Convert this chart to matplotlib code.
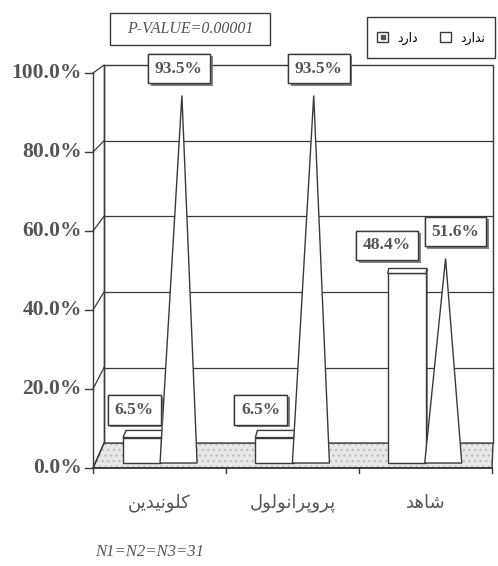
import matplotlib
matplotlib.use("Agg")
import matplotlib.pyplot as plt
from matplotlib.patches import Polygon, Rectangle, Patch
from matplotlib.lines import Line2D
from matplotlib import patheffects

# Persian labels, stored in logical order and shaped before drawing
categories = ["کلونیدین", "پروپرانولول", "شاهد"]
series_names = ["دارد", "ندارد"]
has_pct = [6.5, 6.5, 48.4]       # drawn as boxes
has_not_pct = [93.5, 93.5, 51.6]  # drawn as pyramids
y_ticks = [0, 20, 40, 60, 80, 100]
p_value_text = "P-VALUE=0.00001"
n_text = "N1=N2=N3=31"

# contextual forms: isolated, final, initial, medial
FORMS = {
    "ک": (0xFB8E, 0xFB8F, 0xFB90, 0xFB91),
    "ل": (0xFEDD, 0xFEDE, 0xFEDF, 0xFEE0),
    "ن": (0xFEE5, 0xFEE6, 0xFEE7, 0xFEE8),
    "ی": (0xFBFC, 0xFBFD, 0xFBFE, 0xFBFF),
    "پ": (0xFB56, 0xFB57, 0xFB58, 0xFB59),
    "ش": (0xFEB5, 0xFEB6, 0xFEB7, 0xFEB8),
    "ه": (0xFEE9, 0xFEEA, 0xFEEB, 0xFEEC),
    "و": (0xFEED, 0xFEEE),
    "د": (0xFEA9, 0xFEAA),
    "ر": (0xFEAD, 0xFEAE),
    "ا": (0xFE8D, 0xFE8E),
}


def shape(word):
    out = []
    for i, c in enumerate(word):
        f = FORMS[c]
        join_prev = i > 0 and len(FORMS[word[i - 1]]) == 4
        join_next = i + 1 < len(word) and len(f) == 4
        if join_prev and join_next:
            g = f[3]
        elif join_prev:
            g = f[1]
        elif join_next:
            g = f[2]
        else:
            g = f[0]
        out.append(chr(g))
    return "".join(reversed(out))


def proj(x, y, d):
    # d=0 is the front plane, d=1 the back wall
    return x + d * (0.083 - 0.025 * x), y + d * (0.063 - 0.043 * y)


LINE = "#3a3a3a"
TEXT = "#555555"
W, H = 498, 566

plt.rcParams["hatch.color"] = "#bdbdbd"
plt.rcParams["hatch.linewidth"] = 0.9

fig = plt.figure(figsize=(W / 100, H / 100), dpi=100)
ax = fig.add_axes([93 / W, 98 / H, 399 / W, 395 / H])
ax.set_xlim(0, 3)
ax.set_ylim(0, 1)
ax.axis("off")

# back wall
wall = [proj(0, 0, 1), proj(3, 0, 1), proj(3, 1, 1), proj(0, 1, 1)]
ax.add_patch(Polygon(wall, closed=True, facecolor="white", edgecolor=LINE,
                     lw=1.0, clip_on=False, zorder=1))

# floor: stippled fill, then outline
floor = [(0, 0), (3, 0), proj(3, 0, 1), proj(0, 0, 1)]
ax.add_patch(Polygon(floor, closed=True, facecolor="#e8e8e8",
                     edgecolor="#bdbdbd", lw=0, hatch="...",
                     clip_on=False, zorder=2))
ax.add_patch(Polygon(floor, closed=True, fill=False, edgecolor=LINE,
                     lw=1.0, clip_on=False, zorder=2.1))

# gridlines on back wall, left wall edges and axis ticks
for t in y_ticks:
    v = t / 100
    x0, y0 = proj(0, v, 1)
    x1, y1 = proj(3, v, 1)
    if 0 < t < 100:
        ax.plot([x0, x1], [y0, y1], color=LINE, lw=0.9, zorder=1.5,
                clip_on=False)
    ax.plot([0, x0], [v, y0], color=LINE, lw=0.9, zorder=2.5, clip_on=False)
    ax.plot([-0.06, 0], [v, v], color=LINE, lw=1.0, zorder=2.5,
            clip_on=False)
    ax.text(-0.085, v, f"{t:.1f}%", ha="right", va="center",
            fontsize=15.5, fontweight="bold", family="Liberation Serif",
            color=TEXT)

bx0, by0 = proj(0, 0, 1)
bx1, by1 = proj(0, 1, 1)
ax.plot([0, 0], [0, 1], color=LINE, lw=1.0, zorder=2.5, clip_on=False)
ax.plot([bx0, bx1], [by0, by1], color=LINE, lw=1.0, zorder=2.5,
        clip_on=False)
ax.plot([0, 3], [0, 0], color=LINE, lw=1.2, zorder=2.5, clip_on=False)
for i in range(4):
    ax.plot([i, i], [0, -0.013], color=LINE, lw=1.0, clip_on=False)

shadow = [patheffects.withSimplePatchShadow(offset=(2, -2),
                                            shadow_rgbFace="#777777",
                                            alpha=0.9),
          patheffects.Normal()]


def value_label(xy, text, dx, dy):
    a = ax.annotate(text, xy=xy, xytext=(dx, dy), textcoords="offset pixels",
                    ha="center", va="center", fontsize=12.5,
                    fontweight="bold", family="Liberation Serif", color=TEXT,
                    zorder=10,
                    bbox=dict(boxstyle="square,pad=0.4", facecolor="white",
                              edgecolor=LINE, lw=1.0))
    a.get_bbox_patch().set_path_effects(shadow)


box_dx = [-8, -14, -20]
pyr_dx = [-3, 5, 10]

for i, (h, hn) in enumerate(zip(has_pct, has_not_pct)):
    v = h / 100
    # box: side, front and top faces
    l, r = i + 0.21, i + 0.50
    front = [proj(l, 0, 0.2), proj(r, 0, 0.2), proj(r, v, 0.2),
             proj(l, v, 0.2)]
    top = [proj(l, v, 0.2), proj(r, v, 0.2), proj(r, v, 0.5),
           proj(l, v, 0.5)]
    side = [proj(r, 0, 0.2), proj(r, 0, 0.5), proj(r, v, 0.5),
            proj(r, v, 0.2)]
    for poly in (side, front, top):
        ax.add_patch(Polygon(poly, closed=True, facecolor="white",
                             edgecolor=LINE, lw=1.0, zorder=4))
    cx, cy = proj((l + r) / 2, v, 0.2)
    value_label((cx, cy), f"{h}%", box_dx[i], 28)

    # pyramid
    u = hn / 100
    pl, pr, pa = i + 0.49, i + 0.77, i + 0.645
    apex = proj(pa, u, 0.35)
    tri = [proj(pl, 0, 0.2), proj(pr, 0, 0.2), apex]
    ax.add_patch(Polygon(tri, closed=True, facecolor="white",
                         edgecolor=LINE, lw=1.0, zorder=5))
    value_label(apex, f"{hn}%", pyr_dx[i], 27)

    ax.text(i + 0.5, -0.088, shape(categories[i]), ha="center", va="center",
            fontsize=13, family="DejaVu Sans", color=TEXT)

# p-value box
fig.patches.append(Rectangle((110 / W, 1 - 45 / H), 160 / W, 32 / H,
                             transform=fig.transFigure, facecolor="white",
                             edgecolor=LINE, lw=1.0))
fig.text(190 / W, 1 - 29 / H, p_value_text, ha="center", va="center",
         fontsize=11.5, style="italic", family="Liberation Serif", color=TEXT)

# legend
fig.patches.append(Rectangle((367 / W, 1 - 58 / H), 128 / W, 41 / H,
                             transform=fig.transFigure, facecolor="white",
                             edgecolor=LINE, lw=1.0))
box_handle = Patch(facecolor="white", edgecolor=LINE, lw=1.0)
dot_handle = Line2D([], [], marker="s", ms=3, color="#555555", ls="none")
fig.legend([(box_handle, dot_handle), box_handle],
           [shape(s) for s in series_names], ncol=2,
           loc="center", bbox_to_anchor=(431 / W, 1 - 38 / H),
           frameon=False, handlelength=0.9, handleheight=0.9,
           handletextpad=0.7, columnspacing=1.8,
           prop={"family": "DejaVu Sans", "size": 9})

fig.text(95 / W, 1 - 552 / H, n_text, ha="left", va="center",
         fontsize=12, style="italic", family="Liberation Serif", color=TEXT)

fig.savefig("out.png", dpi=100)
